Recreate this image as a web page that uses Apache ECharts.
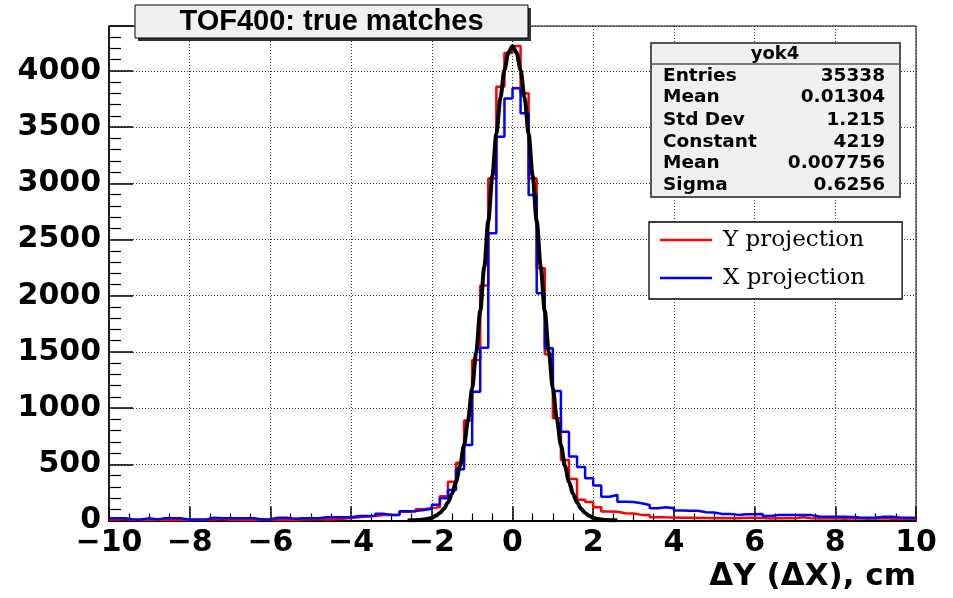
<!DOCTYPE html>
<html><head><meta charset="utf-8">
<script src="https://cdn.jsdelivr.net/npm/echarts@6/dist/echarts.min.js"></script>
<style>html,body{margin:0;padding:0;background:#fff}#c{width:953px;height:598px}</style>
</head><body><div id="c"></div>
<script>
// Histogram binning: 100 bins from -10 to 10
const histMin = -10;
const binWidth = 0.2;

// Y projection (red), counts per bin
const yProjection = [
  8,13,6,5,7,6,5,4,6,7, 5,6,8,13,7,6,5,6,12,8,
  6,7,5,10,12,13,9,12,16,22, 28,35,40,49,49,52,78,80,100,108,
  120,215,345,514,890,1428,2090,3044,3860,4160, 4221,3801,3044,2244,1480,910,538,370,185,165,
  117,80,78,64,62,50,48,30,28,27, 25,24,23,22,20,22,19,20,24,25,
  22,18,20,19,21,28,20,18,17,19, 16,18,17,15,17,19,16,14,17,15
];

// X projection (blue), counts per bin
const xProjection = [
  19,19,10,10,19,10,19,19,19,8, 8,8,25,19,19,19,19,19,10,12,
  25,25,16,19,19,19,28,28,28,28, 40,40,42,60,50,50,82,85,93,105,
  140,197,271,455,672,1146,1537,2555,3415,3756, 3845,3623,2896,2021,1532,1152,790,570,476,375,
  312,212,227,167,165,153,138,108,117,108, 88,87,86,74,72,58,57,50,55,56,
  58,40,48,50,49,50,48,35,33,34, 33,32,26,25,24,34,33,26,25,24
];

// Gaussian fit curve
const fitX = [-2.6,-2.5,-2.4,-2.3,-2.2,-2.1,-2.0,-1.9,-1.8,-1.7,-1.6,-1.5,-1.4,-1.3,-1.2,-1.1,-1.0,-0.9,-0.8,-0.7,-0.6,-0.5,-0.4,-0.3,-0.2,-0.1,0,
  0.1,0.2,0.3,0.4,0.5,0.6,0.7,0.8,0.9,1.0,1.1,1.2,1.3,1.4,1.5,1.6,1.7,1.8,1.9,2.0,2.1,2.2,2.3,2.4,2.5,2.6];
const fitY = [1,1.5,3,5,9,15,25,42,67,105,160,238,345,487,670,899,1176,1499,1863,2256,2664,3066,3439,3761,4009,4165,4219,
  4165,4009,3761,3439,3066,2664,2256,1863,1499,1176,899,670,487,345,238,160,105,67,42,25,15,9,5,3,1.5,1];

// Stats box
const statsTitle = 'yok4';
const statsLabels = ['Entries','Mean','Std Dev','Constant','Mean','Sigma'];
const statsValues = ['35338','0.01304','1.215','4219','0.007756','0.6256'];

const chartTitle = 'TOF400: true matches';
const xAxisTitle = 'ΔY (ΔX), cm';
const seriesNames = ['Y projection','X projection'];

function stepData(vals){
  const d = vals.map((v,i)=>[histMin + i*binWidth, v]);
  d.push([histMin + vals.length*binWidth, vals[vals.length-1]]);
  return d;
}

const SANS = 'DejaVu Sans';
const chart = echarts.init(document.getElementById('c'), null, {renderer:'canvas'});

const statsGraphics = [];
statsGraphics.push({type:'rect', shape:{x:651,y:43,width:249,height:154}, style:{fill:'#f0f0f0', stroke:'#555', lineWidth:2}, z:10});
statsGraphics.push({type:'line', shape:{x1:651,y1:64,x2:900,y2:64}, style:{stroke:'#555', lineWidth:1.5}, z:11});
statsGraphics.push({type:'text', x:775, y:54, style:{text:statsTitle, font:'bold 18px "DejaVu Sans"', fill:'#000', textAlign:'center', textVerticalAlign:'middle'}, z:11});
const rowY = [76,97,120,142,163,185];
statsLabels.forEach((l,i)=>{
  statsGraphics.push({type:'text', x:663, y:rowY[i], style:{text:l, font:'bold 18.5px "DejaVu Sans"', fill:'#000', textAlign:'left', textVerticalAlign:'middle'}, z:11});
  statsGraphics.push({type:'text', x:885, y:rowY[i], style:{text:statsValues[i], font:'bold 18.5px "DejaVu Sans"', fill:'#000', textAlign:'right', textVerticalAlign:'middle'}, z:11});
});

const option = {
  backgroundColor:'#fff',
  animation:false,
  grid:{left:109, right:37, top:26, bottom:77.5, show:true, borderColor:'#000', borderWidth:1, backgroundColor:'transparent'},
  legend:{
    show:true, data:seriesNames.map(n=>({name:n, icon:'rect'})), orient:'vertical', left:649, top:222,
    padding:[5,37,8,11], itemGap:12, itemWidth:52, itemHeight:2.5,
    backgroundColor:'#fff', borderColor:'#000', borderWidth:1.3, borderRadius:0,
    textStyle:{fontFamily:'DejaVu Serif', fontSize:23, color:'#000', lineHeight:26, padding:[0,0,0,6]}
  },
  xAxis:{
    type:'value', min:-10, max:10, interval:2,
    axisLine:{show:true, onZero:false, lineStyle:{color:'#000', width:2}},
    axisTick:{show:true, inside:true, length:14, lineStyle:{color:'#000', width:1.5}},
    minorTick:{show:true, splitNumber:4, length:7, lineStyle:{color:'#000', width:1.2}},
    splitLine:{show:true, lineStyle:{color:'#333', width:1, type:[1,2]}},
    axisLabel:{margin:8, color:'#000', fontFamily:SANS, fontWeight:'bold', fontSize:30,
      formatter:v=> v<0 ? '\u2212'+Math.abs(v) : String(v)}
  },
  yAxis:{
    type:'value', min:0, max:4400, interval:500,
    axisLine:{show:true, onZero:false, lineStyle:{color:'#000', width:1.5}},
    axisTick:{show:true, inside:true, length:24, lineStyle:{color:'#000', width:1.5}},
    minorTick:{show:true, splitNumber:5, length:12, lineStyle:{color:'#000', width:1.2}},
    splitLine:{show:true, lineStyle:{color:'#333', width:1, type:[1,2]}},
    axisLabel:{margin:8, color:'#000', fontFamily:SANS, fontWeight:'bold', fontSize:30, showMaxLabel:false,
      formatter:v=>String(v)}
  },
  series:[
    {name:seriesNames[0], type:'line', step:'end', data:stepData(yProjection), symbol:'none',
     lineStyle:{color:'#ff0000', width:2.5}, itemStyle:{color:'#ff0000'}, z:3},
    {name:seriesNames[1], type:'line', step:'end', data:stepData(xProjection), symbol:'none',
     lineStyle:{color:'#0000ff', width:2.5}, itemStyle:{color:'#0000ff'}, z:4},
    {name:'fit', type:'line', data:fitX.map((x,i)=>[x,fitY[i]]), smooth:0.3, smoothMonotone:'x', symbol:'none',
     lineStyle:{color:'#000', width:4}, itemStyle:{color:'#000'}, z:5}
  ],
  graphic:[
    {type:'rect', shape:{x:138,y:8,width:393,height:33}, style:{fill:'#333'}, z:10},
    {type:'rect', shape:{x:135,y:5,width:393,height:33}, style:{fill:'#f0f0f0', stroke:'#000', lineWidth:1}, z:11},
    {type:'text', x:331.5, y:22, style:{text:chartTitle, font:'bold 29px "Liberation Sans"', fill:'#000', textAlign:'center', textVerticalAlign:'middle'}, z:12},
    {type:'text', x:916, y:577, style:{text:xAxisTitle, font:'bold 31px "DejaVu Sans"', fill:'#000', textAlign:'right', textVerticalAlign:'middle'}, z:12}
  ].concat(statsGraphics)
};
chart.setOption(option);
</script></body></html>
